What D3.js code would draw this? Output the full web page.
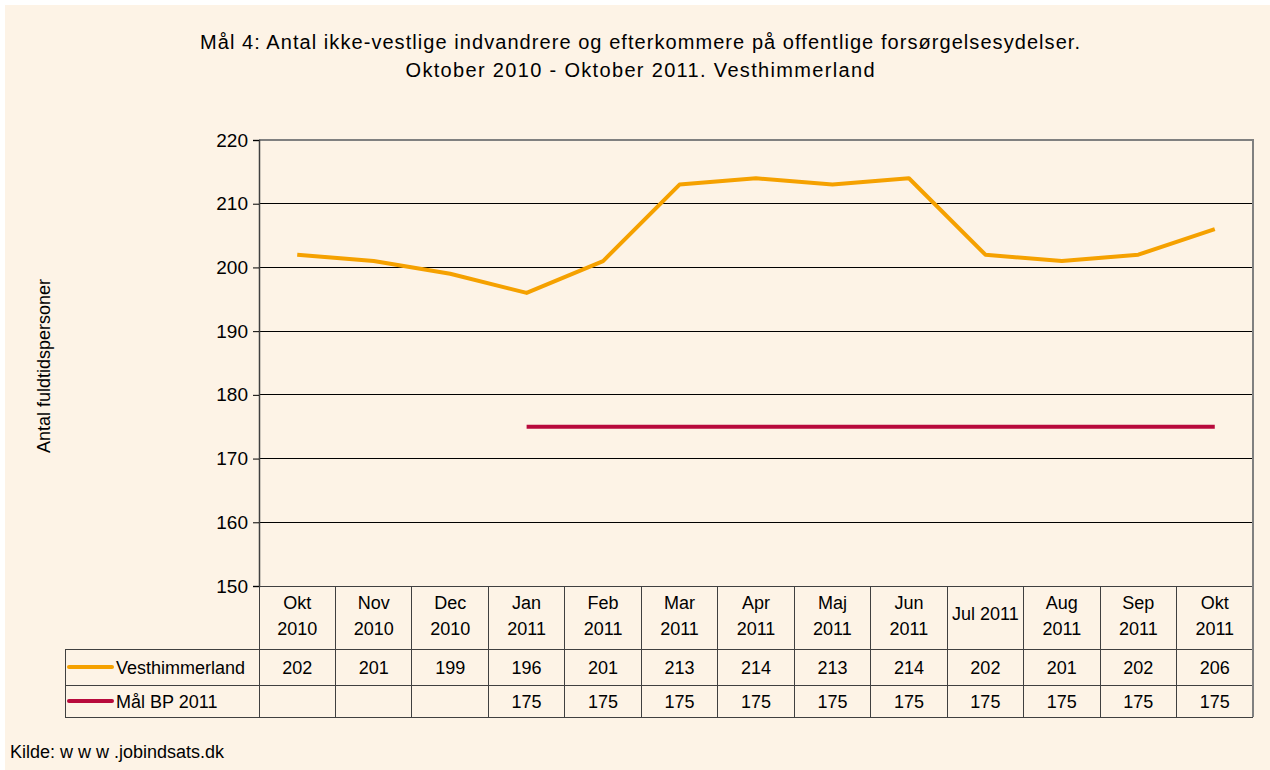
<!DOCTYPE html>
<html>
<head>
<meta charset="utf-8">
<script src="https://cdn.jsdelivr.net/npm/d3@7"></script>
<style>
  html, body { margin: 0; padding: 0; background: #ffffff; }
  svg { display: block; font-family: "Liberation Sans", Arial, sans-serif; }
</style>
</head>
<body>
<svg id="chart" width="1270" height="770"></svg>
<script>
const months = ["Okt 2010","Nov 2010","Dec 2010","Jan 2011","Feb 2011","Mar 2011","Apr 2011","Maj 2011","Jun 2011","Jul 2011","Aug 2011","Sep 2011","Okt 2011"];
const monthLabels = [["Okt","2010"],["Nov","2010"],["Dec","2010"],["Jan","2011"],["Feb","2011"],["Mar","2011"],["Apr","2011"],["Maj","2011"],["Jun","2011"],["Jul 2011"],["Aug","2011"],["Sep","2011"],["Okt","2011"]];
const vesthimmerland = [202,201,199,196,201,213,214,213,214,202,201,202,206];
const maalBP2011 = [null,null,null,175,175,175,175,175,175,175,175,175,175];
const yTicks = [150,160,170,180,190,200,210,220];
const seriesNames = ["Vesthimmerland","Mål BP 2011"];
const seriesColors = ["#F5A100","#B80A3C"];
const titleLines = ["Mål 4: Antal ikke-vestlige indvandrere og efterkommere på offentlige forsørgelsesydelser.","Oktober 2010 - Oktober 2011. Vesthimmerland"];
const yTitle = "Antal fuldtidspersoner";
const source = "Kilde: w w w .jobindsats.dk";

const svg = d3.select("#chart");
const L = 259, R = 1253, T = 140, B = 586;
const tableLeft = 65, row1Top = 649, row2Top = 685, tableBottom = 717;

svg.append("rect").attr("x",5).attr("y",5).attr("width",1265).attr("height",765).attr("fill","#FDF3E6");

// title
const titleWidths = [880, 469];
svg.append("g").selectAll("text").data(titleLines).join("text")
  .attr("x",640).attr("y",(d,i)=>49 + i*28)
  .attr("text-anchor","middle").attr("font-size",20).attr("fill","#000")
  .attr("textLength",(d,i)=>titleWidths[i]).attr("lengthAdjust","spacing")
  .text(d=>d);

const x = d3.scaleBand().domain(months).range([L,R]).padding(0);
const cx = m => x(m) + x.bandwidth()/2;
const y = d3.scaleLinear().domain([150,220]).range([B,T]);

// gridlines
svg.append("g").selectAll("line").data(yTicks.filter(v=>v>150 && v<220)).join("line")
  .attr("x1",L).attr("x2",R).attr("y1",d=>y(d)).attr("y2",d=>y(d))
  .attr("stroke","#000").attr("stroke-width",1).attr("shape-rendering","crispEdges");

// plot frame top/right
svg.append("path").attr("d",`M${L},${T}H${R}V${B}`).attr("fill","none")
  .attr("stroke","#808080").attr("stroke-width",2).attr("shape-rendering","crispEdges");

// y axis
const yAxis = d3.axisLeft(y).tickValues(yTicks).tickSize(6).tickPadding(5).tickFormat(d3.format("d"));
const ga = svg.append("g").attr("transform",`translate(${L},0)`).call(yAxis);
ga.select(".domain").attr("stroke","#404040").attr("stroke-width",1.5);
ga.selectAll(".tick line").attr("stroke","#000");
ga.selectAll(".tick text").attr("font-size",19).attr("fill","#000").attr("font-family","Liberation Sans, Arial, sans-serif");

// y title
svg.append("text").attr("transform","translate(50,366) rotate(-90)")
  .attr("text-anchor","middle").attr("font-size",18).attr("fill","#000").text(yTitle);

// table lines
const tg = svg.append("g").attr("stroke","#404040").attr("stroke-width",1).attr("shape-rendering","crispEdges");
tg.append("line").attr("x1",L).attr("x2",R).attr("y1",B).attr("y2",B);
[row1Top,row2Top,tableBottom].forEach(yy=>{
  tg.append("line").attr("x1",tableLeft).attr("x2",R).attr("y1",yy).attr("y2",yy);
});
tg.append("line").attr("x1",tableLeft).attr("x2",tableLeft).attr("y1",row1Top).attr("y2",tableBottom);
tg.selectAll("line.col").data(months.concat(["end"])).join("line").attr("class","col")
  .attr("x1",(d,i)=> i<months.length ? x(d) : R).attr("x2",(d,i)=> i<months.length ? x(d) : R)
  .attr("y1",B).attr("y2",tableBottom);
svg.append("line").attr("x1",R).attr("x2",R).attr("y1",B).attr("y2",tableBottom)
  .attr("stroke","#808080").attr("stroke-width",2).attr("shape-rendering","crispEdges");

// header labels
const hg = svg.append("g").attr("font-size",18).attr("fill","#000").attr("text-anchor","middle");
months.forEach((m,i)=>{
  const lines = monthLabels[i];
  const t = hg.append("text").attr("x",cx(m));
  if (lines.length === 1) {
    t.attr("y",620).text(lines[0]);
  } else {
    lines.forEach((ln,j)=> t.append("tspan").attr("x",cx(m)).attr("y",609 + j*26).text(ln));
  }
});

// values rows
const rows = [vesthimmerland, maalBP2011];
rows.forEach((arr,ri)=>{
  const rowMid = ri===0 ? (row1Top+row2Top)/2 : (row2Top+tableBottom)/2;
  svg.append("g").selectAll("text").data(arr).join("text")
    .attr("x",(d,i)=>cx(months[i])).attr("y",rowMid+6.5)
    .attr("text-anchor","middle").attr("font-size",18).attr("fill","#000")
    .text(d=> d==null ? "" : d);
  svg.append("line").attr("x1",69).attr("x2",112).attr("y1",rowMid).attr("y2",rowMid)
    .attr("stroke",seriesColors[ri]).attr("stroke-width",4).attr("stroke-linecap","round");
  svg.append("text").attr("x",116).attr("y",rowMid+6.5).attr("font-size",18).attr("fill","#000")
    .text(seriesNames[ri]);
});

// lines
const line = d3.line().defined(d=>d.v!=null).x(d=>cx(d.m)).y(d=>y(d.v));
rows.forEach((arr,ri)=>{
  svg.append("path").datum(arr.map((v,i)=>({m:months[i],v})))
    .attr("d",line).attr("fill","none").attr("stroke",seriesColors[ri])
    .attr("stroke-width",4).attr("stroke-linejoin","round");
});

// source
svg.append("text").attr("x",10).attr("y",758).attr("font-size",18).attr("fill","#000").text(source);
</script>
</body>
</html>
